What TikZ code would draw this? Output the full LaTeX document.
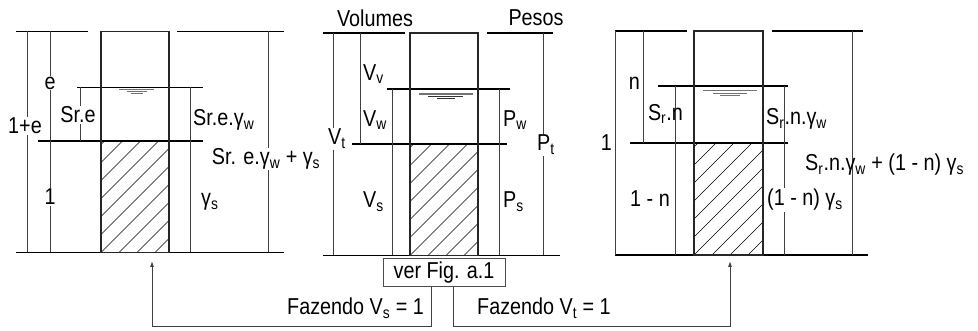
\documentclass[tikz,border=0pt]{standalone}
\usepackage{fontspec}
\setmainfont{Liberation Sans}[FakeStretch=0.86]
\usetikzlibrary{arrows.meta}
\begin{document}
\begin{tikzpicture}[x=1pt,y=-1pt,
  hl/.style={line width=1.1pt,black},
  dim/.style={line width=0.9pt,black!75},
  boxl/.style={line width=1.5pt,black!85},
  hatch/.style={line width=0.6pt,black},
  wsym/.style={line width=1pt,black!55},
  lbl/.style={font=\fontsize{23}{27}\selectfont,inner sep=1pt},
  wl/.style={lbl,fill=white},
  conn/.style={line width=0.9pt,black!75},
  tip/.style={-{Latex[length=6pt,width=4pt]}}]
\useasboundingbox (0,0) rectangle (978,331);

% ---------------- left panel ----------------
\draw[hl] (16,31.5) -- (88,31.5) (177,31.5) -- (284,31.5);
\draw[hl] (16,252.5) -- (284,252.5);
\draw[hl] (77,87.5) -- (203,87.5);
\draw[hl] (38,141) -- (203,141);
\begin{scope}
  \clip (101,141) rectangle (169,252.5);
  \foreach \i in {-7,...,4} \draw[hatch] (101+18*\i,252.5) -- ++(130,-130);
\end{scope}
\draw[boxl] (101,31.5) rectangle (169,252.5);
\draw[wsym] (119,89.5) -- (154,89.5);
\draw[wsym] (127,92) -- (147,92);
\draw[wsym] (131,94) -- (143,94);
\draw[dim] (27,31.5) -- (27,252.5);
\node[wl] (l1e) at (25,126) {1+e};
\draw[dim] (50,31.5) -- (50,252.5);
\node[wl] (le) at (50,83) {e};
\node[wl] (l1) at (50,197) {1};
\draw[dim] (80,87.5) -- (80,141);
\node[wl] (lsre) at (78,115) {Sr.e};
\draw[dim] (190,87.5) -- (190,252.5);
\node[lbl,anchor=west] (lsrg) at (192,120) {Sr.e.γ\textsubscript{w}};
\node[lbl,anchor=west] (lgs) at (200,202) {γ\textsubscript{s}};
\draw[dim] (268,31.5) -- (268,252.5);
\node[wl] (lsum) at (266,159) {Sr. e.γ\textsubscript{w} + γ\textsubscript{s}};

% ---------------- middle panel ----------------
\node[lbl] (vol) at (375,18) {Volumes};
\node[lbl] (pes) at (536,18) {Pesos};
\draw[hl] (323,33) -- (405,33) (487,33) -- (553,33);
\draw[hl] (323,255.5) -- (560,255.5);
\draw[hl] (387,89) -- (510,89);
\draw[hl] (352,144) -- (507,144);
\begin{scope}
  \clip (410,144) rectangle (478,255.5);
  \foreach \i in {-7,...,4} \draw[hatch] (410+18*\i,255.5) -- ++(130,-130);
\end{scope}
\draw[boxl] (410,33) rectangle (478,255.5);
\draw[wsym,line width=1.6pt] (419,94) -- (473,94);
\draw[wsym,black!80] (428,96.5) -- (463,96.5);
\draw[wsym,black!80] (437,98.7) -- (455,98.7);
\draw[dim] (333,33) -- (333,255.5);
\node[wl] (vt) at (337,139) {V\textsubscript{t}};
\draw[dim] (360,33) -- (360,144);
\node[lbl,anchor=west] (vv) at (362,74) {V\textsubscript{v}};
\draw[dim] (392,89) -- (392,255.5);
\node[lbl,anchor=west] (vw) at (362,120) {V\textsubscript{w}};
\node[lbl,anchor=west] (vs) at (362,202) {V\textsubscript{s}};
\draw[dim] (499,89) -- (499,255.5);
\node[lbl,anchor=west] (pw) at (502,120) {P\textsubscript{w}};
\node[lbl,anchor=west] (ps) at (502,202) {P\textsubscript{s}};
\draw[dim] (543,33) -- (543,255.5);
\node[wl] (pt) at (546,145) {P\textsubscript{t}};

% ---------------- right panel ----------------
\draw[hl] (615,31) -- (687,31) (772,31) -- (863,31);
\draw[hl] (615,255) -- (868,255);
\draw[hl] (658,86) -- (788,86);
\draw[hl] (630,143) -- (788,143);
\begin{scope}
  \clip (694,143) rectangle (763,255);
  \foreach \i in {-7,...,4} \draw[hatch] (694+18*\i,255) -- ++(130,-130);
\end{scope}
\draw[boxl] (694,31) rectangle (763,255);
\draw[wsym] (703,90.7) -- (757,90.7);
\draw[wsym] (713,93.5) -- (747,93.5);
\draw[wsym] (720,96) -- (740,96);
\draw[dim] (615,31) -- (615,255);
\node[lbl,anchor=east] (r1) at (613,143) {1};
\draw[dim] (643,31) -- (643,143);
\node[lbl,anchor=east] (rn) at (641,83) {n};
\draw[dim] (675,86) -- (675,255);
\node[lbl,anchor=east] (rsrn) at (684,114) {S\textsubscript{r}.n};
\node[lbl,anchor=east] (r1n) at (671,199) {1 - n};
\draw[dim] (784,86) -- (784,255);
\node[lbl,anchor=west] (rsrg) at (765,119) {S\textsubscript{r}.n.γ\textsubscript{w}};
\node[wl,anchor=west] (r1ng) at (766,200) {(1 - n) γ\textsubscript{s}};
\draw[dim] (852,31) -- (852,255);
\node[lbl,anchor=west] (rsum) at (804,165) {S\textsubscript{r}.n.γ\textsubscript{w} + (1 - n) γ\textsubscript{s}};

% ---------------- bottom ----------------
\node[lbl,draw=black!70,line width=1pt,minimum width=122pt,minimum height=28pt] (ver) at (444,273) {ver Fig. a.1};
\node[lbl,anchor=east] (fs) at (425,308) {Fazendo V\textsubscript{s} = 1};
\node[lbl,anchor=west] (ft) at (476,308) {Fazendo V\textsubscript{t} = 1};
\coordinate (lt) at (152,261);
\coordinate (rt) at (730,261);
\draw[conn,tip] ([xshift=-13pt]ver.south) -- ++(0,39) -| (lt);
\draw[conn,tip] ([xshift=9pt]ver.south) -- ++(0,39) -| (rt);
\end{tikzpicture}
\end{document}
